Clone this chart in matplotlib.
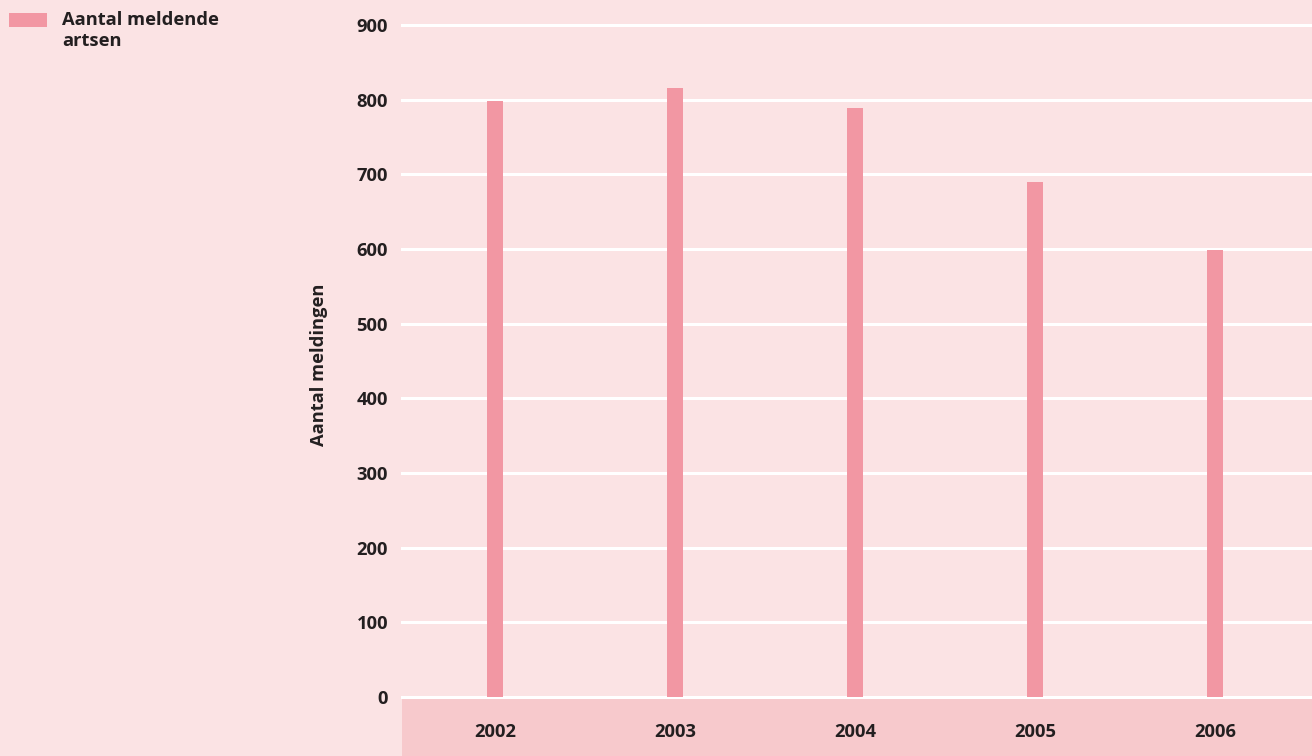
import matplotlib
matplotlib.use("Agg")
import matplotlib.pyplot as plt
from matplotlib.patches import Rectangle

years = ["2002", "2003", "2004", "2005", "2006"]
meldingen = [798, 815, 789, 690, 598]
yticks = [0, 100, 200, 300, 400, 500, 600, 700, 800, 900]
legend_label = "Aantal meldende\nartsen"
ylabel = "Aantal meldingen"

BG = "#FBE3E4"
BAND = "#F7C9CC"
BAR = "#F297A3"
TXT = "#231F20"

plt.rcParams['font.family'] = ['Open Sans', 'DejaVu Sans']
FW = 'bold'
FS = 13.2

W, H = 1312, 756
fig = plt.figure(figsize=(W / 100, H / 100), dpi=100, facecolor=BG)

x0, x1 = 402, 1310
y_top, y_zero = 25, 697
ax = fig.add_axes([x0 / W, 1 - y_zero / H, (x1 - x0) / W, (y_zero - y_top) / H])
ax.set_facecolor(BG)
ax.set_zorder(2)

band = Rectangle((x0 / W, 0), (W - x0) / W, 1 - 699 / H,
                 transform=fig.transFigure, facecolor=BAND,
                 edgecolor='none', zorder=0)
fig.patches.append(band)

xs = range(len(years))
ax.bar(xs, meldingen, width=16 / 180, color=BAR, zorder=3)

ax.set_xlim(-0.5167, 4.5278)
ax.set_ylim(0, 900)
ax.set_yticks(yticks)
ax.set_yticklabels([str(t) for t in yticks])
ax.set_xticks(list(xs))
ax.set_xticklabels(years)

for t in yticks:
    ax.axhline(t, color='white', lw=2.2, zorder=2, clip_on=False)

for s in ax.spines.values():
    s.set_visible(False)
ax.tick_params(axis='both', length=0, colors=TXT, labelsize=FS)
ax.tick_params(axis='y', pad=10)
ax.tick_params(axis='x', pad=19)
for lab in ax.get_xticklabels() + ax.get_yticklabels():
    lab.set_fontweight(FW)

ax.set_ylabel(ylabel, fontsize=FS, fontweight=FW, color=TXT)
ax.yaxis.set_label_coords(-0.081, 0.495)

fig.patches.append(Rectangle((9 / W, 1 - 27 / H), 38 / W, 14 / H,
                             transform=fig.transFigure, facecolor=BAR,
                             edgecolor='none'))
fig.text(62 / W, 1 - 11 / H, legend_label, fontsize=FS, fontweight=FW,
         color=TXT, va='top', ha='left', linespacing=1.25)

fig.savefig("out.png", dpi=100, facecolor=BG)
